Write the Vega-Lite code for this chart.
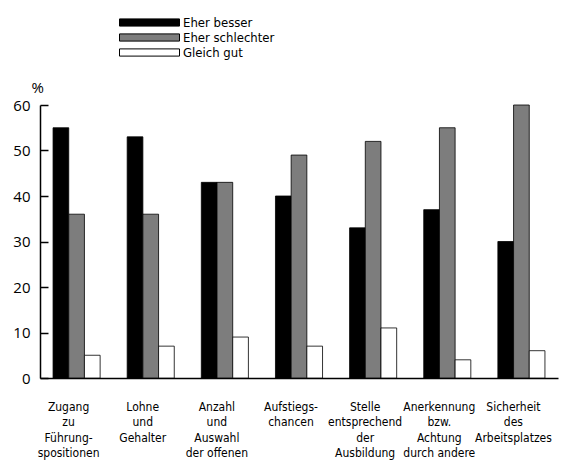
{
  "$schema": "https://vega.github.io/schema/vega-lite/v6.json",
  "autosize": "none",
  "padding": {"left": 40, "top": 105, "right": 25, "bottom": 93},
  "width": 518,
  "height": 273,
  "background": "white",
  "data": {
    "values": [
      {"cat": "Zugang|zu|Führung-|spositionen", "serie": "Eher besser", "wert": 55},
      {"cat": "Zugang|zu|Führung-|spositionen", "serie": "Eher schlechter", "wert": 36},
      {"cat": "Zugang|zu|Führung-|spositionen", "serie": "Gleich gut", "wert": 5},
      {"cat": "Lohne|und|Gehalter", "serie": "Eher besser", "wert": 53},
      {"cat": "Lohne|und|Gehalter", "serie": "Eher schlechter", "wert": 36},
      {"cat": "Lohne|und|Gehalter", "serie": "Gleich gut", "wert": 7},
      {"cat": "Anzahl|und|Auswahl|der offenen", "serie": "Eher besser", "wert": 43},
      {"cat": "Anzahl|und|Auswahl|der offenen", "serie": "Eher schlechter", "wert": 43},
      {"cat": "Anzahl|und|Auswahl|der offenen", "serie": "Gleich gut", "wert": 9},
      {"cat": "Aufstiegs-|chancen", "serie": "Eher besser", "wert": 40},
      {"cat": "Aufstiegs-|chancen", "serie": "Eher schlechter", "wert": 49},
      {"cat": "Aufstiegs-|chancen", "serie": "Gleich gut", "wert": 7},
      {"cat": "Stelle|entsprechend|der|Ausbildung", "serie": "Eher besser", "wert": 33},
      {"cat": "Stelle|entsprechend|der|Ausbildung", "serie": "Eher schlechter", "wert": 52},
      {"cat": "Stelle|entsprechend|der|Ausbildung", "serie": "Gleich gut", "wert": 11},
      {"cat": "Anerkennung|bzw.|Achtung|durch andere", "serie": "Eher besser", "wert": 37},
      {"cat": "Anerkennung|bzw.|Achtung|durch andere", "serie": "Eher schlechter", "wert": 55},
      {"cat": "Anerkennung|bzw.|Achtung|durch andere", "serie": "Gleich gut", "wert": 4},
      {"cat": "Sicherheit|des|Arbeitsplatzes", "serie": "Eher besser", "wert": 30},
      {"cat": "Sicherheit|des|Arbeitsplatzes", "serie": "Eher schlechter", "wert": 60},
      {"cat": "Sicherheit|des|Arbeitsplatzes", "serie": "Gleich gut", "wert": 6}
    ]
  },
  "mark": {"type": "bar", "stroke": "black", "strokeWidth": 0.8},
  "encoding": {
    "x": {
      "field": "cat",
      "type": "nominal",
      "sort": null,
      "scale": {"paddingInner": 0.365, "paddingOuter": 0.176},
      "axis": {
        "title": null,
        "labelAngle": 0,
        "labelExpr": "split(datum.label, '|')",
        "labelFont": "DejaVu Sans Condensed, Lato, sans-serif",
        "labelFontSize": 12,
        "labelColor": "black",
        "labelLineHeight": 15.5,
        "labelPadding": 23,
        "labelOffset": -8,
        "labelBaseline": "top",
        "ticks": false,
        "domainColor": "black",
        "domainWidth": 1.5
      }
    },
    "xOffset": {"field": "serie", "type": "nominal", "sort": ["Eher besser", "Eher schlechter", "Gleich gut"], "scale": {"paddingInner": 0, "paddingOuter": 0}},
    "y": {
      "field": "wert",
      "type": "quantitative",
      "scale": {"domain": [0, 60], "nice": false},
      "axis": {
        "title": "%",
        "titleAngle": 0,
        "titleX": -9,
        "titleY": -18,
        "titleAlign": "left",
        "titleBaseline": "middle",
        "titleFont": "Open Sans",
        "titleFontSize": 15,
        "titleFontWeight": "normal",
        "titleColor": "black",
        "values": [0, 10, 20, 30, 40, 50, 60],
        "grid": false,
        "tickSize": -8,
        "tickColor": "black",
        "tickWidth": 1.5,
        "labelPadding": 18,
        "labelFont": "Open Sans",
        "labelFontSize": 15,
        "labelColor": "black",
        "domainColor": "black",
        "domainWidth": 1.5
      }
    },
    "fill": {
      "field": "serie",
      "type": "nominal",
      "scale": {"domain": ["Eher besser", "Eher schlechter", "Gleich gut"], "range": ["#000000", "#7d7d7d", "#ffffff"]},
      "legend": {
        "title": null,
        "orient": "none",
        "legendX": 103,
        "legendY": -89,
        "padding": 0,
        "symbolType": "M-5,-0.6L5,-0.6L5,0.6L-5,0.6Z",
        "symbolSize": 144,
        "symbolStrokeColor": "black",
        "symbolStrokeWidth": 1,
        "symbolOpacity": 1,
        "labelOffset": 27,
        "labelFont": "DejaVu Sans Condensed, Lato, sans-serif",
        "labelFontSize": 13,
        "labelColor": "black",
        "rowPadding": 1
      }
    }
  },
  "config": {"view": {"stroke": null}}
}
